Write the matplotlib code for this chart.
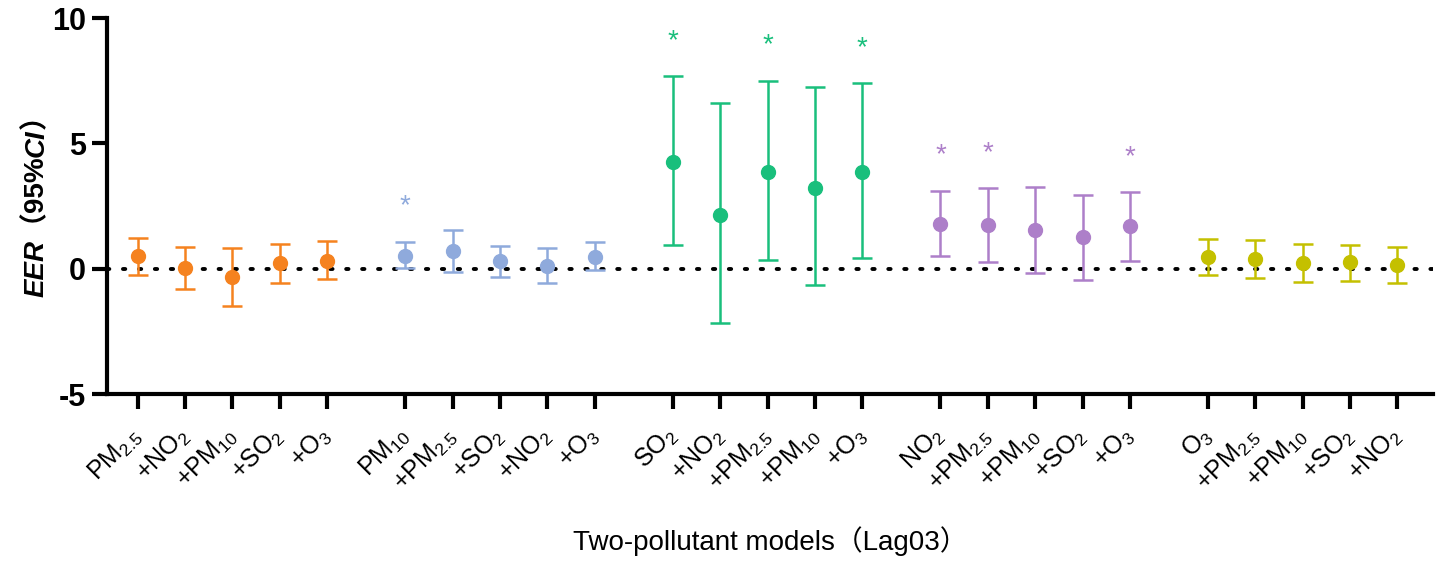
import numpy as np
import matplotlib
matplotlib.use("Agg")
import matplotlib.pyplot as plt

plt.rcParams['font.family'] = ['Liberation Sans', 'Noto Sans CJK SC', 'DejaVu Sans']
plt.rcParams['mathtext.fontset'] = 'custom'
plt.rcParams['mathtext.rm'] = 'Liberation Sans'
plt.rcParams['mathtext.it'] = 'Liberation Sans:italic'
plt.rcParams['mathtext.bf'] = 'Liberation Sans:bold'

# data
labels = ["PM$_{2.5}$", "+NO$_2$", "+PM$_{10}$", "+SO$_2$", "+O$_3$",
          "PM$_{10}$", "+PM$_{2.5}$", "+SO$_2$", "+NO$_2$", "+O$_3$",
          "SO$_2$", "+NO$_2$", "+PM$_{2.5}$", "+PM$_{10}$", "+O$_3$",
          "NO$_2$", "+PM$_{2.5}$", "+PM$_{10}$", "+SO$_2$", "+O$_3$",
          "O$_3$", "+PM$_{2.5}$", "+PM$_{10}$", "+SO$_2$", "+NO$_2$"]
eer = [0.50, 0.04, -0.32, 0.24, 0.33,
       0.53, 0.72, 0.30, 0.13, 0.48,
       4.28, 2.13, 3.88, 3.22, 3.88,
       1.80, 1.76, 1.56, 1.26, 1.69,
       0.49, 0.40, 0.24, 0.27, 0.17]
lower = [-0.24, -0.79, -1.50, -0.56, -0.40,
         0.04, -0.13, -0.33, -0.56, -0.04,
         0.96, -2.14, 0.36, -0.64, 0.45,
         0.53, 0.29, -0.16, -0.44, 0.33,
         -0.23, -0.35, -0.53, -0.48, -0.57]
upper = [1.22, 0.86, 0.85, 0.99, 1.10,
         1.09, 1.56, 0.90, 0.84, 1.08,
         7.67, 6.61, 7.50, 7.25, 7.41,
         3.12, 3.23, 3.28, 2.96, 3.06,
         1.20, 1.14, 0.98, 0.96, 0.89]
signif = [0, 0, 0, 0, 0,
          1, 0, 0, 0, 0,
          1, 0, 1, 0, 1,
          1, 1, 0, 0, 1,
          0, 0, 0, 0, 0]
colors = ["#F5821F", "#8FAADC", "#19BF7C", "#AD7FC9", "#C4C000"]

eer = np.array(eer)
lower = np.array(lower)
upper = np.array(upper)
grp = np.arange(25) // 5
x = np.arange(25) % 5 + grp * 5.65

fig = plt.figure(figsize=(14.45, 5.64), dpi=100)
ax = fig.add_axes([0.074, 0.301, 0.918, 0.667])

ax.axhline(0, color="black", ls=(0, (0.6, 3.5)), lw=2.8, dash_capstyle="round", zorder=1)

for g in range(5):
    m = grp == g
    ax.errorbar(x[m], eer[m], yerr=[eer[m] - lower[m], upper[m] - eer[m]],
                fmt="o", color=colors[g], ms=10, elinewidth=1.8, capsize=7,
                capthick=1.8, zorder=3)
    for xi, ui, s in zip(x[m], upper[m], np.array(signif)[m]):
        if s:
            ax.text(xi, ui + 1.4, "*", color=colors[g], fontsize=20,
                    ha="center", va="center")

ax.set_xlim(-0.65, x[-1] + 0.76)
ax.set_ylim(-5, 10)
ax.set_yticks([-5, 0, 5, 10])
ax.set_yticklabels(["-5", "0", "5", "10"], fontsize=22, fontweight="bold")
ax.set_xticks(x)
ax.set_xticklabels(labels, fontsize=18, rotation=45, ha="right", va="center",
                   rotation_mode="anchor")
for sp in ["top", "right"]:
    ax.spines[sp].set_visible(False)
for sp in ["left", "bottom"]:
    ax.spines[sp].set_linewidth(3)
ax.tick_params(axis="both", width=3, length=11, direction="out")
ax.tick_params(axis="x", pad=16)
ax.tick_params(axis="y", pad=4)

fig.text(0.533, 0.04, "Two-pollutant models（Lag03）", fontsize=20,
         ha="center", va="center")

# y label built from pieces (bold italic / bold), stacked bottom to top.
# the full-width "（" has a wide left bearing that Agg applies sideways when
# the text is rotated, so that glyph gets nudged back (left and up)
pieces = [("EER", "italic", "Liberation Sans", 0.0, 0.0),
          ("（", "normal", "Noto Sans CJK SC", -0.0123, 0.0316),
          ("95%", "normal", "Liberation Sans", 0.0, 0.0),
          ("CI", "italic", "Liberation Sans", 0.0, 0.0),
          ("）", "normal", "Noto Sans CJK SC", 0.0, 0.0)]
renderer = fig.canvas.get_renderer()
base_x = 0.030
ypos = 0.473
for txt, style, fam, dx, dy in pieces:
    t = fig.text(base_x, ypos, txt, rotation=90, fontsize=20, fontweight="bold",
                 style=style, family=fam, ha="left", va="baseline",
                 rotation_mode="anchor")
    bb = t.get_window_extent(renderer).transformed(fig.transFigure.inverted())
    ypos = bb.y1
    if dx or dy:
        t.set_position((base_x + dx, bb.y0 + dy))

fig.savefig("out.png", dpi=100)
